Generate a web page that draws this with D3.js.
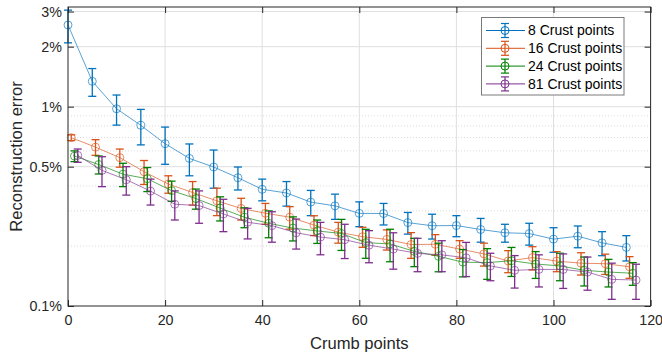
<!DOCTYPE html>
<html>
<head>
<meta charset="utf-8">
<script src="https://cdn.jsdelivr.net/npm/d3@7"></script>
<style>
  html, body { margin: 0; padding: 0; background: #fff; }
  svg { display: block; font-family: "Liberation Sans", Arial, Helvetica, sans-serif; }
</style>
</head>
<body>
<svg id="chart" width="662" height="362"></svg>
<script>
// Crumb point counts (x) shared by all series
const crumbPoints = [0, 5, 10, 15, 20, 25, 30, 35, 40, 45, 50, 55, 60, 65, 70, 75, 80, 85, 90, 95, 100, 105, 110, 115];

const seriesNames = ["8 Crust points", "16 Crust points", "24 Crust points", "81 Crust points"];

// Mean reconstruction error (%) and its standard deviation (%)
const crust8Mean = [2.57, 1.34, 0.976, 0.806, 0.652, 0.55, 0.498, 0.44, 0.385, 0.369, 0.332, 0.318, 0.2915, 0.291, 0.262, 0.2527, 0.2533, 0.242, 0.233, 0.231, 0.2165, 0.224, 0.2074, 0.1968];
const crust8Sd   = [0.48, 0.213, 0.168, 0.163, 0.138, 0.1, 0.108, 0.058, 0.048, 0.052, 0.048, 0.046, 0.0415, 0.036, 0.0326, 0.036, 0.0306, 0.033, 0.024, 0.029, 0.0305, 0.028, 0.0286, 0.0286];

const crust16Mean = [0.699, 0.6265, 0.555, 0.472, 0.409, 0.371, 0.337, 0.3085, 0.292, 0.279, 0.2546, 0.2347, 0.2226, 0.2158, 0.2034, 0.204, 0.1931, 0.1826, 0.1682, 0.175, 0.168, 0.164, 0.163, 0.1573];
const crust16Sd   = [0.023, 0.0565, 0.058, 0.065, 0.041, 0.05, 0.053, 0.0385, 0.035, 0.036, 0.029, 0.028, 0.0256, 0.025, 0.03, 0.024, 0.0196, 0.024, 0.0213, 0.0234, 0.0194, 0.021, 0.019, 0.0196];

const crust24Mean = [0.565, 0.5125, 0.4585, 0.435, 0.379, 0.346, 0.31, 0.279, 0.26, 0.246, 0.238, 0.231, 0.208, 0.2047, 0.188, 0.1775, 0.166, 0.165, 0.1687, 0.1625, 0.1589, 0.151, 0.148, 0.146];
const crust24Sd   = [0.035, 0.053, 0.0615, 0.06, 0.044, 0.04, 0.043, 0.032, 0.04, 0.034, 0.032, 0.041, 0.0345, 0.038, 0.0305, 0.029, 0.026, 0.029, 0.028, 0.025, 0.025, 0.025, 0.0234, 0.019];

const crust81Mean = [0.5695, 0.479, 0.43, 0.377, 0.324, 0.319, 0.2895, 0.263, 0.253, 0.233, 0.2217, 0.215, 0.2018, 0.193, 0.1836, 0.1806, 0.1745, 0.1589, 0.151, 0.1526, 0.1525, 0.148, 0.136, 0.135];
const crust81Sd   = [0.0435, 0.082, 0.07, 0.056, 0.054, 0.059, 0.0535, 0.046, 0.044, 0.04, 0.041, 0.042, 0.037, 0.04, 0.035, 0.032, 0.034, 0.025, 0.028, 0.028, 0.03, 0.028, 0.028, 0.027];

// Axis ticks
const xTicks = [0, 20, 40, 60, 80, 100, 120];
const yTicks = [0.1, 0.5, 1, 2, 3];
const yTickLabels = ["0.1%", "0.5%", "1%", "2%", "3%"];
const yMinorGrid = [0.2, 0.3, 0.4, 0.6, 0.7, 0.8, 0.9];

const colors = ["#0072BD", "#D95319", "#008000", "#7E2F8E"];
const means = [crust8Mean, crust16Mean, crust24Mean, crust81Mean];
const sds = [crust8Sd, crust16Sd, crust24Sd, crust81Sd];

const svg = d3.select("#chart");
const plotLeft = 68, plotRight = 650.6, plotTop = 7, plotBottom = 306;

const x = d3.scaleLinear().domain([0, 120]).range([plotLeft, plotRight]);
const y = d3.scaleLog().domain([0.1, Math.pow(10, 0.5)]).range([plotBottom, plotTop]);

// horizontal dodge so overlapping error bars stay readable
const dodge = [0, 2 / 3, 4 / 3, 2];

// grid
const grid = svg.append("g");
grid.selectAll("line.minor").data(yMinorGrid).join("line")
  .attr("x1", plotLeft).attr("x2", plotRight)
  .attr("y1", d => y(d)).attr("y2", d => y(d))
  .attr("stroke", "#dcdcdc").attr("stroke-width", 1).attr("stroke-dasharray", "1,2");
grid.selectAll("line.ymaj").data(yTicks.slice(1)).join("line")
  .attr("x1", plotLeft).attr("x2", plotRight)
  .attr("y1", d => y(d)).attr("y2", d => y(d))
  .attr("stroke", "#dfdfdf").attr("stroke-width", 1);
grid.selectAll("line.xmaj").data(xTicks.slice(1, -1)).join("line")
  .attr("x1", d => x(d)).attr("x2", d => x(d))
  .attr("y1", plotTop).attr("y2", plotBottom)
  .attr("stroke", "#dfdfdf").attr("stroke-width", 1);

// series
const capHalf = 4;
means.forEach((m, si) => {
  const g = svg.append("g");
  const pts = crumbPoints.map((c, i) => ({ cx: c + dodge[si], v: m[i], s: sds[si][i] }));
  const col = colors[si];

  g.append("path")
    .datum(pts)
    .attr("fill", "none")
    .attr("stroke", col).attr("stroke-opacity", 0.65).attr("stroke-width", 1)
    .attr("d", d3.line().x(d => x(d.cx)).y(d => y(d.v)));

  const eb = g.selectAll("g.eb").data(pts).join("g").attr("stroke", col).attr("stroke-width", 1.3);
  eb.append("line")
    .attr("x1", d => x(d.cx)).attr("x2", d => x(d.cx))
    .attr("y1", d => y(d.v + d.s)).attr("y2", d => y(d.v - d.s));
  eb.append("line")
    .attr("x1", d => x(d.cx) - capHalf).attr("x2", d => x(d.cx) + capHalf)
    .attr("y1", d => y(d.v + d.s)).attr("y2", d => y(d.v + d.s));
  eb.append("line")
    .attr("x1", d => x(d.cx) - capHalf).attr("x2", d => x(d.cx) + capHalf)
    .attr("y1", d => y(d.v - d.s)).attr("y2", d => y(d.v - d.s));

  g.selectAll("circle").data(pts).join("circle")
    .attr("cx", d => x(d.cx)).attr("cy", d => y(d.v)).attr("r", 4)
    .attr("fill", "none").attr("stroke", col).attr("stroke-opacity", 0.65).attr("stroke-width", 1);
});

// axes box and ticks
const axisCol = "#262626";
const xAxis = d3.axisBottom(x).tickValues(xTicks).tickSizeInner(-6).tickSizeOuter(0).tickPadding(9);
const gx = svg.append("g").attr("transform", `translate(0,${plotBottom})`).call(xAxis);
const yAxis = d3.axisLeft(y).tickValues(yTicks).tickFormat((d, i) => yTickLabels[i]).tickSizeInner(-6).tickSizeOuter(0).tickPadding(6);
const gy = svg.append("g").attr("transform", `translate(${plotLeft},0)`).call(yAxis);
const gxTop = svg.append("g").attr("transform", `translate(0,${plotTop})`)
  .call(d3.axisTop(x).tickValues(xTicks).tickSizeInner(-6).tickSizeOuter(0).tickFormat(""));
const gyRight = svg.append("g").attr("transform", `translate(${plotRight},0)`)
  .call(d3.axisRight(y).tickValues(yTicks).tickSizeInner(-6).tickSizeOuter(0).tickFormat(""));
[gx, gy, gxTop, gyRight].forEach(g => {
  g.select(".domain").remove();
  g.selectAll("line").attr("stroke", axisCol);
  g.selectAll("text").attr("fill", "#262626").style("font-size", "14.3px")
    .style("font-family", '"Liberation Sans", Arial, Helvetica, sans-serif');
});
svg.append("rect").attr("x", plotLeft).attr("y", plotTop).attr("width", plotRight - plotLeft).attr("height", plotBottom - plotTop)
  .attr("fill", "none").attr("stroke", axisCol).attr("stroke-width", 1);

// axis titles
svg.append("text").attr("x", (plotLeft + plotRight) / 2).attr("y", 349)
  .attr("text-anchor", "middle").attr("fill", "#262626").style("font-size", "16.6px")
  .text("Crumb points");
svg.append("text").attr("transform", `translate(22,${(plotTop + plotBottom) / 2}) rotate(-90)`)
  .attr("text-anchor", "middle").attr("fill", "#262626").style("font-size", "16.6px")
  .text("Reconstruction error");

// legend
const lg = svg.append("g");
const lgX = 481.5, lgY = 17.5, lgW = 142.5, lgH = 77.5;
lg.append("rect").attr("x", lgX).attr("y", lgY).attr("width", lgW).attr("height", lgH)
  .attr("fill", "#fff").attr("stroke", "#7a7a7a").attr("stroke-width", 1);
seriesNames.forEach((name, i) => {
  const cy = 30.5 + i * 17.8;
  const col = colors[i];
  lg.append("line").attr("x1", 486).attr("x2", 525).attr("y1", cy).attr("y2", cy)
    .attr("stroke", col).attr("stroke-width", 1);
  lg.append("line").attr("x1", 505).attr("x2", 505).attr("y1", cy - 7).attr("y2", cy + 7)
    .attr("stroke", col).attr("stroke-width", 1.2);
  [cy - 7, cy + 7].forEach(yy => lg.append("line").attr("x1", 501).attr("x2", 509)
    .attr("y1", yy).attr("y2", yy).attr("stroke", col).attr("stroke-width", 1.2));
  lg.append("circle").attr("cx", 505).attr("cy", cy).attr("r", 4)
    .attr("fill", "none").attr("stroke", col).attr("stroke-width", 1);
  lg.append("text").attr("x", 528).attr("y", cy).attr("dy", "0.35em")
    .attr("fill", "#000").style("font-size", "14px").text(name);
});
</script>
</body>
</html>
